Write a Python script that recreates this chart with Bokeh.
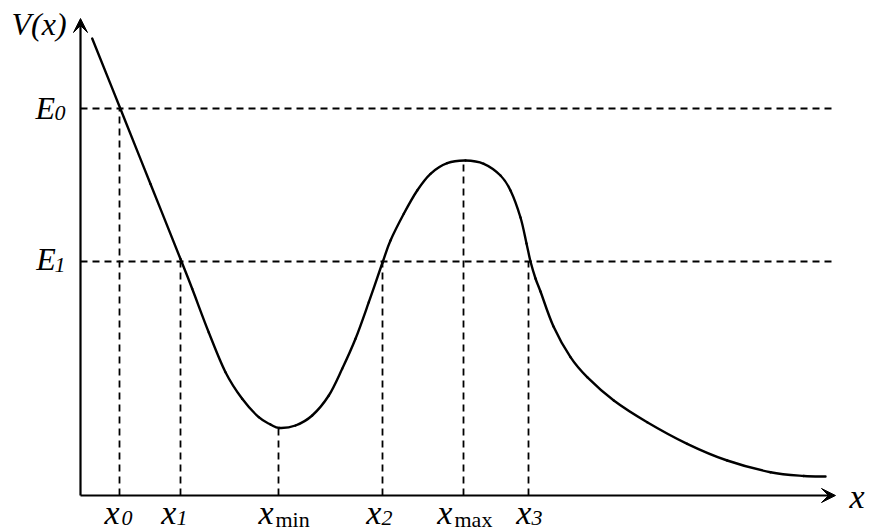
from bokeh.plotting import figure
from bokeh.models import Arrow, VeeHead, Range1d, ColumnDataSource
from bokeh.core.properties import value
from bokeh.embed import file_html
from bokeh.resources import INLINE

# ---- data (arbitrary units) ----
curve_x = [11.7, 40, 70, 100, 111.7, 128.3, 145, 161.7, 178.3, 190, 199, 215, 231.7,
           248.3, 261.7, 275, 288.3, 302, 310, 323.3, 336.7, 350, 366.7, 385, 403.3,
           420, 430, 440, 446, 450, 455, 460, 473, 490, 506.7, 533.3, 566.7,
           606.7, 646.7, 690, 723.3, 745]
curve_y = [457, 386.5, 311.5, 236.5, 206.7, 163, 123.3, 96.7, 78.3, 71, 67.5, 70, 80,
           100, 126.7, 156.7, 193.3, 233, 255, 281.7, 305, 321.7, 332.3, 335, 331.7,
           320, 305, 278, 252, 234, 217, 204, 169, 138.3, 118.3, 95, 73.3,
           51.7, 35, 23.3, 19.5, 19]

energy_names = ["E", "E"]
energy_subs = ["0", "1"]
energy_levels = [387, 234]

mark_names = ["x", "x", "x", "x", "x", "x"]
mark_subs = ["0", "1", "min", "2", "max", "3"]
mark_x = [39, 100, 198, 302, 383, 448]
mark_top = [387, 234, 67.5, 234, 335, 234]

x_axis_end = 755
y_axis_end = 477
level_line_end = 752

# label anchor positions
ylabel_pos = (-69, 461)
e_label_x = [-45, -44.3]
e_label_y = [377, 225.5]
e_sub_x = [-26, -26]
e_sub_y = [372, 220]
x_label_x = [24, 80.7, 178, 285.7, 356.7, 435.7]
x_sub_x = [41, 96, 195, 301, 374, 451]
x_sub_y = [-33, -33, -35, -33, -35, -33]
x_label_base = -28.3
xname_pos = (769, -11.7)

TEXT_SHIFT = 11  # compensation for the renderer's baseline placement

# ---- figure ----
W, H = 870, 531
p = figure(width=W, height=H, output_backend="svg", toolbar_location=None,
           x_range=Range1d(-80, 790), y_range=Range1d(-36, 495),
           min_border=0, min_border_left=0, min_border_right=0,
           min_border_top=0, min_border_bottom=0)
p.xaxis.visible = False
p.yaxis.visible = False
p.xgrid.visible = False
p.ygrid.visible = False
p.outline_line_color = None
p.background_fill_color = "white"
p.border_fill_color = "white"

DASH = "7 5"
for lv in energy_levels:
    p.line([0, level_line_end], [lv, lv], line_color="black", line_width=1.8,
           line_dash=DASH)
for mx, mt in zip(mark_x, mark_top):
    p.line([mx, mx], [0, mt], line_color="black", line_width=1.8, line_dash=DASH)

# smooth potential curve drawn as Catmull-Rom segments through the read points
n = len(curve_x)
px = [curve_x[0]] + curve_x + [curve_x[-1]]
py = [curve_y[0]] + curve_y + [curve_y[-1]]
bx0, by0, bx1, by1, cx0, cy0, cx1, cy1 = [], [], [], [], [], [], [], []
for i in range(1, n):
    bx0.append(px[i]); by0.append(py[i])
    bx1.append(px[i + 1]); by1.append(py[i + 1])
    cx0.append(px[i] + (px[i + 1] - px[i - 1]) / 6.0)
    cy0.append(py[i] + (py[i + 1] - py[i - 1]) / 6.0)
    cx1.append(px[i + 1] - (px[i + 2] - px[i]) / 6.0)
    cy1.append(py[i + 1] - (py[i + 2] - py[i]) / 6.0)
src = ColumnDataSource(dict(x0=bx0, y0=by0, x1=bx1, y1=by1,
                            cx0=cx0, cy0=cy0, cx1=cx1, cy1=cy1))
p.bezier(x0="x0", y0="y0", x1="x1", y1="y1", cx0="cx0", cy0="cy0",
         cx1="cx1", cy1="cy1", source=src, line_color="black", line_width=2.4,
         line_cap="round")

# axes with arrows
p.add_layout(Arrow(end=VeeHead(size=14, fill_color="black", line_color="black",
                               line_width=1),
                   x_start=0, y_start=0, x_end=x_axis_end, y_end=0,
                   line_color="black", line_width=2.2))
p.add_layout(Arrow(end=VeeHead(size=14, fill_color="black", line_color="black",
                               line_width=1),
                   x_start=0, y_start=0, x_end=0, y_end=y_axis_end,
                   line_color="black", line_width=2.2))

FONT = value("Liberation Serif")
MAIN = "32px"
XMAIN = "34px"
SUB = "22px"

def txt(x, y, t, size, style="italic"):
    p.text(x=[x], y=[y + TEXT_SHIFT], text=[t], text_font=FONT,
           text_font_size=size, text_font_style=style, text_align="left",
           text_baseline="alphabetic", text_color="black")

txt(ylabel_pos[0], ylabel_pos[1], "V(x)", MAIN)
for nm, sb, ex, ey, sx, sy in zip(energy_names, energy_subs, e_label_x, e_label_y,
                                  e_sub_x, e_sub_y):
    txt(ex, ey, nm, MAIN)
    txt(sx, sy, sb, SUB)

for nm, sb, lx, sx, sy in zip(mark_names, mark_subs, x_label_x, x_sub_x, x_sub_y):
    txt(lx, x_label_base, nm, XMAIN)
    txt(sx, sy, sb, SUB, style="normal" if sb in ("min", "max") else "italic")

txt(xname_pos[0], xname_pos[1], "x", XMAIN)

open("out.html", "w").write(file_html(p, INLINE))
